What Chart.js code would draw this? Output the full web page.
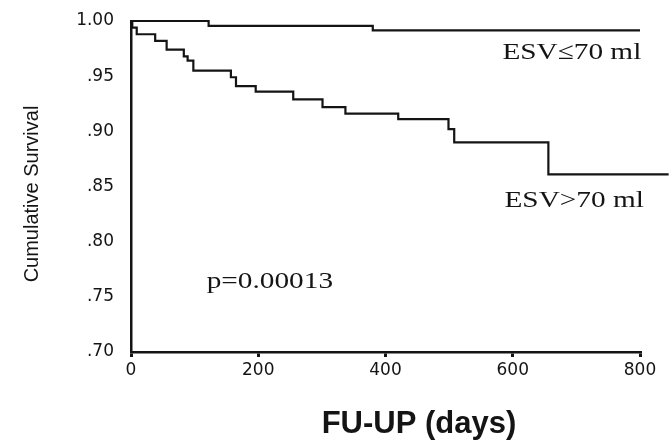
<!DOCTYPE html>
<html>
<head>
<meta charset="utf-8">
<script src="https://cdn.jsdelivr.net/npm/chart.js@4/dist/chart.umd.min.js"></script>
<style>
  html, body { margin: 0; padding: 0; background: #fff; }
  canvas { display: block; }
</style>
</head>
<body>
<canvas id="km" width="669" height="440"></canvas>
<script>
// Kaplan-Meier curves (days, cumulative survival after each drop)
const lowDays = [0, 2, 9, 38, 56, 83, 89, 98, 157, 165, 196, 255, 301, 337, 420, 499, 508, 656, 845];
const lowSurv = [1.0, 0.994, 0.988, 0.982, 0.974, 0.968, 0.964, 0.955, 0.949, 0.941, 0.936, 0.929, 0.922, 0.916, 0.911, 0.902, 0.890, 0.861, 0.861];
const highDays = [0, 122, 380, 800];
const highSurv = [1.0, 0.9955, 0.9915, 0.9915];

const xTickLabels = ['0', '200', '400', '600', '800'];
const yTickLabels = ['.70', '.75', '.80', '.85', '.90', '.95', '1.00'];

const seriesNames = ['ESV\u226470 ml', 'ESV>70 ml'];
const pLabel = 'p=0.00013';
const xTitle = 'FU-UP (days)';
const yTitle = 'Cumulative Survival';

const INK = '#141414';
const TEXT_STRETCH = 1.22; // the scan is a bit wider than tall

const toPoints = (xs, ys) => xs.map((x, i) => ({ x: x, y: ys[i] }));

// Text drawn on top of the plot: curve labels, p value, axis titles
const notesPlugin = {
    id: 'notes',
    afterDraw(chart) {
        const { ctx, scales: { x, y } } = chart;
        ctx.save();
        ctx.fillStyle = INK;
        ctx.textBaseline = 'alphabetic';

        const serif = '24px "Liberation Serif", "Times New Roman", serif';
        const stretched = (text, px, py, align) => {
            ctx.save();
            ctx.translate(px, py);
            ctx.scale(TEXT_STRETCH, 1);
            ctx.font = serif;
            ctx.textAlign = align;
            ctx.fillText(text, 0, 0);
            ctx.restore();
        };
        stretched(seriesNames[0], x.getPixelForValue(802), y.getPixelForValue(0.9653), 'right');
        stretched(seriesNames[1], x.getPixelForValue(806), y.getPixelForValue(0.8317), 'right');
        stretched(pLabel, x.getPixelForValue(119), y.getPixelForValue(0.7577), 'left');

        // x title sits a little right of centre in the original
        ctx.font = 'bold 31px "Liberation Sans", Arial, sans-serif';
        ctx.textAlign = 'center';
        ctx.fillText(xTitle, 419, 433);

        // y title, rotated
        ctx.translate(38, 194);
        ctx.rotate(-Math.PI / 2);
        ctx.font = '20px "Liberation Sans", Arial, sans-serif';
        ctx.fillText(yTitle, 0, 0);
        ctx.restore();
    }
};

const lineStyle = {
    borderColor: INK,
    borderWidth: 2.2,
    pointRadius: 0,
    stepped: 'before',
    tension: 0,
    fill: false,
    clip: false
};

new Chart(document.getElementById('km'), {
    type: 'line',
    data: {
        datasets: [
            { label: seriesNames[0], data: toPoints(highDays, highSurv), ...lineStyle },
            { label: seriesNames[1], data: toPoints(lowDays, lowSurv), ...lineStyle }
        ]
    },
    options: {
        responsive: false,
        devicePixelRatio: 1,
        animation: false,
        layout: { padding: { top: 21, right: 29, bottom: 0, left: 0 } },
        plugins: { legend: { display: false }, tooltip: { enabled: false } },
        scales: {
            x: {
                type: 'linear',
                min: 0,
                max: 800,
                afterFit: scale => {
                    scale.height = 88;
                    scale.paddingLeft = 0;
                    scale.paddingRight = 0;
                },
                ticks: {
                    stepSize: 200,
                    padding: 3,
                    color: INK,
                    font: { family: '"DejaVu Sans", sans-serif', size: 17 },
                    callback: (v, i) => xTickLabels[i]
                },
                grid: { display: true, drawOnChartArea: false, drawTicks: true, tickLength: 5, lineWidth: 3, color: INK },
                border: { display: true, color: INK, width: 2.5 }
            },
            y: {
                min: 0.70,
                max: 1.00,
                afterFit: scale => {
                    scale.width = 131;
                    scale.paddingTop = 0;
                    scale.paddingBottom = 0;
                },
                ticks: {
                    stepSize: 0.05,
                    padding: 17,
                    color: INK,
                    font: { family: '"DejaVu Sans", sans-serif', size: 17 },
                    callback: (v, i) => yTickLabels[i]
                },
                grid: { display: false, drawTicks: false },
                border: { display: true, color: INK, width: 2.5 }
            }
        }
    },
    plugins: [notesPlugin]
});
</script>
</body>
</html>
